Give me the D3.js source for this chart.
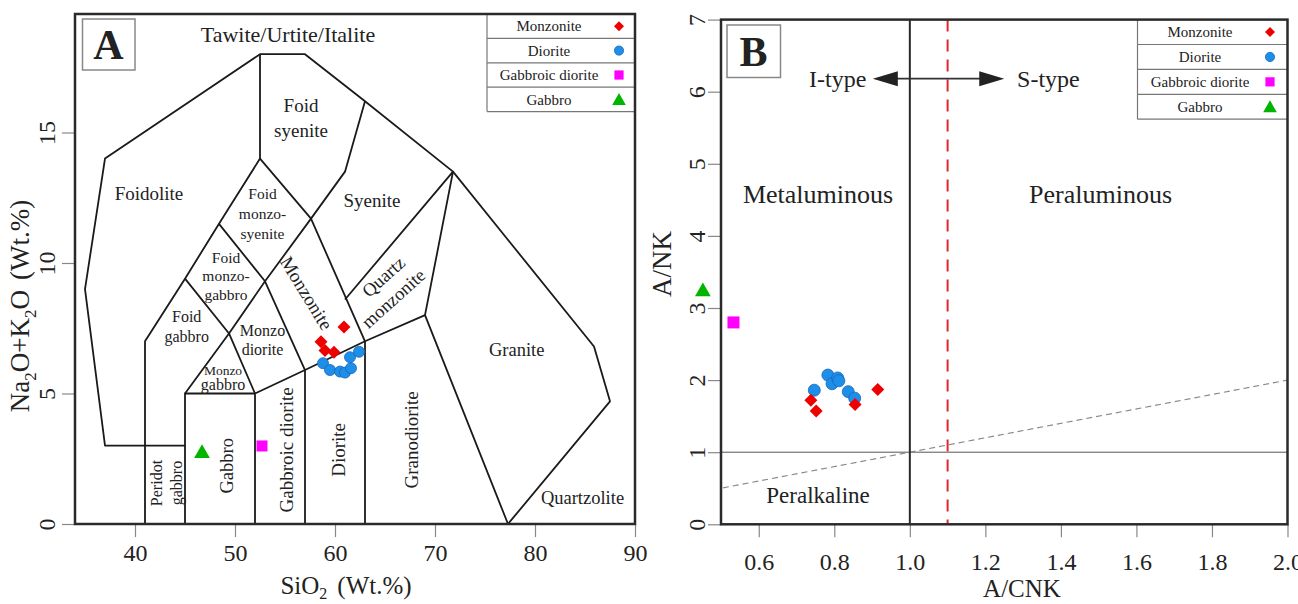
<!DOCTYPE html>
<html>
<head>
<meta charset="utf-8">
<script src="https://d3js.org/d3.v7.min.js"></script>
<style>
  body { margin: 0; background: #fff; }
  text { font-family: "Liberation Serif", "Times New Roman", serif; fill: #222; }
</style>
</head>
<body>
<svg id="chart" width="1298" height="604"></svg>
<script>
// ---- data ----
// Panel A: TAS (SiO2 vs Na2O+K2O, wt.%)
var monzoniteSiO2 = [60.9, 58.6, 59.0, 59.9];
var monzoniteAlk  = [7.55, 6.98, 6.65, 6.58];
var dioriteSiO2   = [58.8, 59.5, 60.5, 61.0, 61.6, 61.5, 62.4];
var dioriteAlk    = [6.16, 5.90, 5.84, 5.80, 5.97, 6.39, 6.60];
var gabbroicDioriteSiO2 = [52.7];
var gabbroicDioriteAlk  = [2.99];
var gabbroSiO2 = [46.7];
var gabbroAlk  = [2.77];

// Panel B: A/CNK vs A/NK
var monzoniteACNK = [0.738, 0.752, 0.855, 0.915];
var monzoniteANK  = [1.72, 1.57, 1.66, 1.87];
var dioriteACNK   = [0.747, 0.783, 0.794, 0.809, 0.812, 0.837, 0.854];
var dioriteANK    = [1.86, 2.07, 1.95, 2.03, 1.99, 1.84, 1.75];
var gabbroicDioriteACNK = [0.533];
var gabbroicDioriteANK  = [2.80];
var gabbroACNK = [0.452];
var gabbroANK  = [3.25];

var legendNames = ["Monzonite", "Diorite", "Gabbroic diorite", "Gabbro"];
var xTicksA = [40, 50, 60, 70, 80, 90];
var yTicksA = [0, 5, 10, 15];
var xTicksB = [0.6, 0.8, 1.0, 1.2, 1.4, 1.6, 1.8, 2.0];
var yTicksB = [0, 1, 2, 3, 4, 5, 6, 7];

// TAS field boundaries (Middlemost 1994, plutonic)
var tasLines = [
  [[45,3],[37,3],[35,9],[37,14],[52.5,18],[57,18],[63,16.2],[71.8,13.5],[85.9,6.8],[87.5,4.7],[77.3,0]],
  [[41,0],[41,7],[45,9.4],[48.4,11.5],[52.5,14],[52.5,18]],
  [[45,0],[45,5],[52,5]],
  [[52,0],[52,5],[57,5.9],[63,7],[69,8],[77.3,0]],
  [[57,0],[57,5.9]],
  [[63,0],[63,7]],
  [[45,5],[49.4,7.3],[52,5]],
  [[45,9.4],[49.4,7.3],[53,9.3],[57,5.9]],
  [[48.4,11.5],[53,9.3],[57.6,11.7],[63,7]],
  [[52.5,14],[57.6,11.7]],
  [[57.6,11.7],[61,13.5],[63,16.2]],
  [[61,8.6],[71.8,13.5],[69,8]]
];

var tasLabels = [
  {t: ["Tawite/Urtite/Italite"], x: 55.3, y: 18.76, s: 22},
  {t: ["Foid", "syenite"], x: 56.6, y: 15.55, s: 19, lh: 25},
  {t: ["Foidolite"], x: 41.4, y: 12.68, s: 19},
  {t: ["Syenite"], x: 63.7, y: 12.41, s: 19},
  {t: ["Foid", "monzo-", "syenite"], x: 52.75, y: 11.88, s: 15.5, lh: 20},
  {t: ["Foid", "monzo-", "gabbro"], x: 49.1, y: 9.5, s: 15.5, lh: 18.5},
  {t: ["Monzonite"], x: 57.17, y: 8.85, s: 19, r: 58.5},
  {t: ["Quartz"], x: 64.83, y: 9.48, s: 18.5, r: -42},
  {t: ["monzonite"], x: 65.83, y: 8.65, s: 18.5, r: -42},
  {t: ["Foid", "gabbro"], x: 45.17, y: 7.56, s: 16, lh: 20},
  {t: ["Monzo", "diorite"], x: 52.75, y: 7.07, s: 16, lh: 19},
  {t: ["Monzo"], x: 48.8, y: 5.88, s: 13.5},
  {t: ["gabbro"], x: 48.8, y: 5.34, s: 16},
  {t: ["Granite"], x: 78.17, y: 6.70, s: 18.5},
  {t: ["Peridot", "gabbro"], x: 43.17, y: 1.57, s: 16, lh: 20, r: -90},
  {t: ["Gabbro"], x: 49.17, y: 2.23, s: 18.5, r: -90},
  {t: ["Gabbroic diorite"], x: 55.17, y: 2.84, s: 19, r: -90},
  {t: ["Diorite"], x: 60.35, y: 2.84, s: 19, r: -90},
  {t: ["Granodiorite"], x: 67.65, y: 3.22, s: 19, r: -90},
  {t: ["Quartzolite"], x: 84.75, y: 1.0, s: 18.5}
];

var shandLabels = [
  {t: ["I-type"], x: 0.809, y: 6.18, s: 24},
  {t: ["S-type"], x: 1.367, y: 6.18, s: 24},
  {t: ["Metaluminous"], x: 0.757, y: 4.58, s: 26},
  {t: ["Peraluminous"], x: 1.505, y: 4.58, s: 26},
  {t: ["Peralkaline"], x: 0.757, y: 0.41, s: 23}
];

var SERIF = '"Liberation Serif", "Times New Roman", serif';
var svg = d3.select("#chart");
var RED = "#ee0000", BLUE = "#1e8fe8", BLUE_S = "#1766b8", MAG = "#ff00ff", GRN = "#00b400";

function mark(g, kind, x, y, s) {
  if (kind === "diamond") {
    g.append("path").attr("d", "M" + x + "," + (y - s) + "L" + (x + s) + "," + y + "L" + x + "," + (y + s) + "L" + (x - s) + "," + y + "Z")
      .attr("fill", RED);
  } else if (kind === "circle") {
    g.append("circle").attr("cx", x).attr("cy", y).attr("r", s)
      .attr("fill", BLUE).attr("stroke", BLUE_S).attr("stroke-width", 0.8);
  } else if (kind === "square") {
    g.append("rect").attr("x", x - s).attr("y", y - s).attr("width", 2 * s).attr("height", 2 * s)
      .attr("fill", MAG);
  } else {
    g.append("path").attr("d", "M" + x + "," + (y - s) + "L" + (x + s * 1.05) + "," + (y + s * 0.85) + "L" + (x - s * 1.05) + "," + (y + s * 0.85) + "Z")
      .attr("fill", GRN);
  }
}

function labels(g, list, xs, ys) {
  list.forEach(function(d) {
    var lh = d.lh || d.s;
    var t = g.append("text")
      .attr("transform", "translate(" + xs(d.x) + "," + ys(d.y) + ")" + (d.r ? " rotate(" + d.r + ")" : ""))
      .attr("text-anchor", "middle")
      .style("font-size", d.s + "px");
    d.t.forEach(function(line, i) {
      t.append("tspan").attr("x", 0)
        .attr("y", (i - (d.t.length - 1) / 2) * lh)
        .attr("dy", "0.35em")
        .text(line);
    });
  });
}

function legend(g, x0, x1, y0, rh, labelX, markX) {
  g.append("rect").attr("x", x0).attr("y", y0).attr("width", x1 - x0).attr("height", rh * 4)
    .attr("fill", "#fff");
  g.append("line").attr("x1", x0).attr("x2", x0).attr("y1", y0).attr("y2", y0 + rh * 4)
    .attr("stroke", "#777").attr("stroke-width", 1.2);
  var kinds = ["diamond", "circle", "square", "triangle"];
  var sizes = [5, 4.6, 4.6, 6.5];
  legendNames.forEach(function(name, i) {
    var cy = y0 + rh * (i + 0.5);
    g.append("line").attr("x1", x0).attr("x2", x1).attr("y1", y0 + rh * (i + 1)).attr("y2", y0 + rh * (i + 1))
      .attr("stroke", "#777").attr("stroke-width", 1.2);
    g.append("text").attr("x", labelX).attr("y", cy).attr("dy", "0.35em")
      .attr("text-anchor", "middle").style("font-size", "15px").text(name);
    mark(g, kinds[i], markX, cy, sizes[i]);
  });
}

function styleAxis(ax) {
  ax.attr("font-family", SERIF);
  ax.select(".domain").remove();
  ax.selectAll(".tick line").attr("stroke", "#888").attr("stroke-width", 1.2);
  ax.selectAll("text").attr("fill", "#222").style("font-family", SERIF).style("font-size", "24px");
}

// ================= Panel A =================
var xA = d3.scaleLinear().domain([34, 90]).range([75, 635]);
var yA = d3.scaleLinear().domain([0, 19.54]).range([524, 14]);
var gA = svg.append("g");

var line = d3.line().x(function(d) { return xA(d[0]); }).y(function(d) { return yA(d[1]); });
gA.selectAll("path.tas").data(tasLines).enter().append("path")
  .attr("class", "tas").attr("d", line)
  .attr("fill", "none").attr("stroke", "#1a1a1a").attr("stroke-width", 1.8).attr("stroke-linejoin", "round");

labels(gA, tasLabels, xA, yA);

var axA = gA.append("g").attr("transform", "translate(0,524)")
  .call(d3.axisBottom(xA).tickValues(xTicksA).tickSize(13).tickFormat(d3.format("d")));
styleAxis(axA);
axA.selectAll("text").attr("y", 28.5).attr("dy", "0.35em");

var ayA = gA.append("g").attr("transform", "translate(75,0)")
  .call(d3.axisLeft(yA).tickValues(yTicksA).tickSize(13).tickFormat(d3.format("d")));
styleAxis(ayA);
ayA.selectAll("text").attr("x", 0).attr("y", 0).attr("dy", "0.35em")
  .attr("text-anchor", "middle").attr("transform", "translate(-28,0) rotate(-90)");

// points A
monzoniteSiO2.forEach(function(v, i) { mark(gA, "diamond", xA(v), yA(monzoniteAlk[i]), 6.5); });
dioriteSiO2.forEach(function(v, i) { mark(gA, "circle", xA(v), yA(dioriteAlk[i]), 5.5); });
gabbroicDioriteSiO2.forEach(function(v, i) { mark(gA, "square", xA(v), yA(gabbroicDioriteAlk[i]), 5.5); });
gabbroSiO2.forEach(function(v, i) { mark(gA, "triangle", xA(v), yA(gabbroAlk[i]), 7.5); });

legend(gA, 487, 635, 14, 24.4, 549, 619);

gA.append("rect").attr("x", 75).attr("y", 14).attr("width", 560).attr("height", 510)
  .attr("fill", "none").attr("stroke", "#2a2a2a").attr("stroke-width", 2.5);
gA.append("rect").attr("x", 82.5).attr("y", 19).attr("width", 52.5).attr("height", 51)
  .attr("fill", "#fff").attr("stroke", "#888").attr("stroke-width", 1.5);
gA.append("text").attr("x", 108.5).attr("y", 44.5).attr("dy", "0.35em").attr("text-anchor", "middle")
  .style("font-size", "42px").style("font-weight", "bold").text("A");

var tA = gA.append("text").attr("x", 346).attr("y", 585).attr("dy", "0.35em")
  .attr("text-anchor", "middle").style("font-size", "25px");
tA.append("tspan").text("SiO");
tA.append("tspan").attr("dy", 5).style("font-size", "16px").text("2");
tA.append("tspan").attr("dy", -5).attr("dx", 10).text("(Wt.%)");

var tyA = gA.append("text").attr("transform", "translate(20,306) rotate(-90)")
  .attr("dy", "0.35em").attr("text-anchor", "middle").style("font-size", "27px");
tyA.append("tspan").text("Na");
tyA.append("tspan").attr("dy", 7).style("font-size", "17px").text("2");
tyA.append("tspan").attr("dy", -7).text("O+K");
tyA.append("tspan").attr("dy", 7).style("font-size", "17px").text("2");
tyA.append("tspan").attr("dy", -7).text("O");
tyA.append("tspan").attr("dx", 10).text("(Wt.%)");

// ================= Panel B =================
var xB = d3.scaleLinear().domain([0.5, 2.0]).range([721, 1287.5]);
var yB = d3.scaleLinear().domain([0, 7]).range([524.3, 19.6]);
var gB = svg.append("g");

// boundaries
gB.append("line").attr("x1", xB(0.5)).attr("x2", xB(2.0)).attr("y1", yB(1)).attr("y2", yB(1))
  .attr("stroke", "#555").attr("stroke-width", 1);
gB.append("line").attr("x1", xB(0.505)).attr("x2", xB(2.0)).attr("y1", yB(0.505)).attr("y2", yB(2.0))
  .attr("stroke", "#888").attr("stroke-width", 1.2).attr("stroke-dasharray", "6,4");
gB.append("line").attr("x1", xB(1.0)).attr("x2", xB(1.0)).attr("y1", yB(0)).attr("y2", yB(7))
  .attr("stroke", "#2a2a2a").attr("stroke-width", 2);
gB.append("line").attr("x1", xB(1.1)).attr("x2", xB(1.1)).attr("y1", yB(7)).attr("y2", yB(0))
  .attr("stroke", "#e0282a").attr("stroke-width", 2).attr("stroke-dasharray", "12,8");

// arrow I-type <-> S-type
var ay = yB(6.18), axL = xB(0.902), axR = xB(1.25);
gB.append("line").attr("x1", axL + 20).attr("x2", axR - 20).attr("y1", ay).attr("y2", ay)
  .attr("stroke", "#333").attr("stroke-width", 1.8);
gB.append("path").attr("d", "M" + axL + "," + ay + "L" + (axL + 25) + "," + (ay - 7.5) + "L" + (axL + 25) + "," + (ay + 7.5) + "Z").attr("fill", "#222");
gB.append("path").attr("d", "M" + axR + "," + ay + "L" + (axR - 25) + "," + (ay - 7.5) + "L" + (axR - 25) + "," + (ay + 7.5) + "Z").attr("fill", "#222");

labels(gB, shandLabels, xB, yB);

var axB = gB.append("g").attr("transform", "translate(0,524.3)")
  .call(d3.axisBottom(xB).tickValues(xTicksB).tickSize(13).tickFormat(d3.format(".1f")));
styleAxis(axB);
axB.selectAll("text").attr("y", 37).attr("dy", "0.35em");

var ayB = gB.append("g").attr("transform", "translate(721,0)")
  .call(d3.axisLeft(yB).tickValues(yTicksB).tickSize(13).tickFormat(d3.format("d")));
styleAxis(ayB);
ayB.selectAll("text").attr("x", 0).attr("y", 0).attr("dy", "0.35em")
  .attr("text-anchor", "middle").attr("transform", "translate(-24,0) rotate(-90)");

// points B
dioriteACNK.forEach(function(v, i) { mark(gB, "circle", xB(v), yB(dioriteANK[i]), 6); });
monzoniteACNK.forEach(function(v, i) { mark(gB, "diamond", xB(v), yB(monzoniteANK[i]), 6.5); });
gabbroicDioriteACNK.forEach(function(v, i) { mark(gB, "square", xB(v), yB(gabbroicDioriteANK[i]), 6); });
gabbroACNK.forEach(function(v, i) { mark(gB, "triangle", xB(v), yB(gabbroANK[i]), 7.5); });

legend(gB, 1137.5, 1288, 19.6, 24.9, 1200, 1270);

gB.append("rect").attr("x", 721).attr("y", 19.6).attr("width", 566.5).attr("height", 504.7)
  .attr("fill", "none").attr("stroke", "#2a2a2a").attr("stroke-width", 2.5);
gB.append("rect").attr("x", 727).attr("y", 25).attr("width", 53.5).attr("height", 52.5)
  .attr("fill", "#fff").attr("stroke", "#888").attr("stroke-width", 1.5);
gB.append("text").attr("x", 753.5).attr("y", 51).attr("dy", "0.35em").attr("text-anchor", "middle")
  .style("font-size", "42px").style("font-weight", "bold").text("B");

gB.append("text").attr("x", 1022).attr("y", 588).attr("dy", "0.35em").attr("text-anchor", "middle")
  .style("font-size", "25px").text("A/CNK");
gB.append("text").attr("transform", "translate(662,264) rotate(-90)").attr("dy", "0.35em")
  .attr("text-anchor", "middle").style("font-size", "27px").text("A/NK");
</script>
</body>
</html>
